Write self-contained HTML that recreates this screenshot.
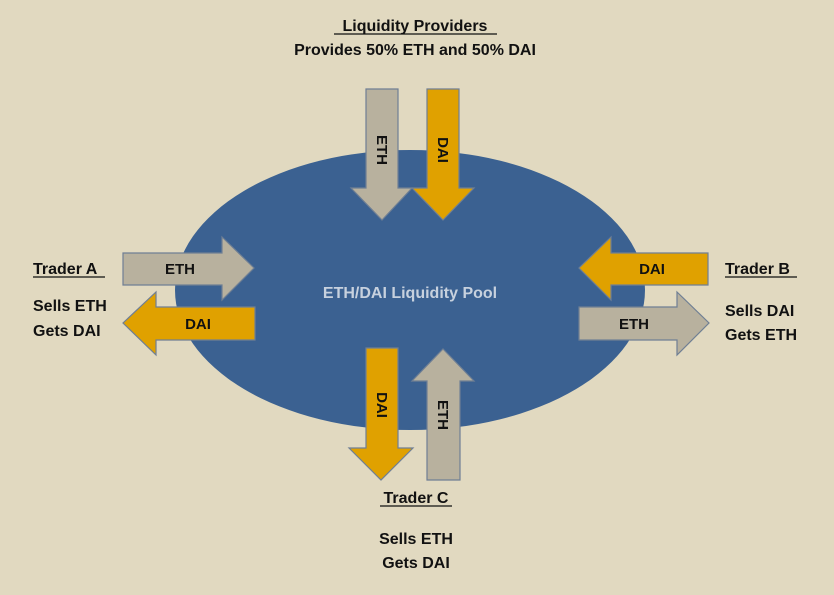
<!DOCTYPE html>
<html><head><style>
html,body{margin:0;padding:0;background:#e1d9c0;}
svg{display:block;}
text{font-family:"Liberation Sans",sans-serif;font-weight:bold;}
</style></head><body>
<svg width="834" height="595" viewBox="0 0 834 595">
<rect width="834" height="595" fill="#e1d9c0"/>
<ellipse cx="410" cy="290" rx="235" ry="140" fill="#3b6191"/>
<g stroke="#6f7f94" stroke-width="1.2">
<polygon points="366,89 398,89 398,188 412,188 382,220 351,188 366,188" fill="#b8b19e"/>
<polygon points="427,89 459,89 459,188 474,188 443,220 412,188 427,188" fill="#e0a100"/>
<polygon points="123,253 222,253 222,237 254,268 222,300 222,285 123,285" fill="#b8b19e"/>
<polygon points="255,307 156,307 156,292 123,323 156,355 156,340 255,340" fill="#e0a100"/>
<polygon points="708,253 611,253 611,237 579,268 611,300 611,285 708,285" fill="#e0a100"/>
<polygon points="579,307 677,307 677,292 709,323 677,355 677,340 579,340" fill="#b8b19e"/>
<polygon points="366,348 398,348 398,448 413,448 381,480 349,448 366,448" fill="#e0a100"/>
<polygon points="427,480 460,480 460,381 474,381 443,349 412,381 427,381" fill="#b8b19e"/>
</g>
<g font-size="15" fill="#111" text-anchor="middle">
<text transform="translate(382,150) rotate(90)" dy="5">ETH</text>
<text transform="translate(443,150) rotate(90)" dy="5">DAI</text>
<text x="180" y="274">ETH</text>
<text x="198" y="329">DAI</text>
<text x="652" y="274">DAI</text>
<text x="634" y="329">ETH</text>
<text transform="translate(382,405) rotate(90)" dy="5">DAI</text>
<text transform="translate(443,415) rotate(90)" dy="5">ETH</text>
</g>
<text x="410" y="298" font-size="16" fill="#c7d1de" text-anchor="middle">ETH/DAI Liquidity Pool</text>
<g font-size="16" fill="#111">
<text x="415" y="31" text-anchor="middle">Liquidity Providers</text>
<line x1="334" y1="34" x2="497" y2="34" stroke="#111" stroke-width="1.3"/>
<text x="415" y="55" text-anchor="middle">Provides 50% ETH and 50% DAI</text>
<text x="33" y="274">Trader A</text>
<line x1="33" y1="277" x2="105" y2="277" stroke="#111" stroke-width="1.3"/>
<text x="33" y="311">Sells ETH</text>
<text x="33" y="336">Gets DAI</text>
<text x="725" y="274">Trader B</text>
<line x1="725" y1="277" x2="797" y2="277" stroke="#111" stroke-width="1.3"/>
<text x="725" y="316">Sells DAI</text>
<text x="725" y="340">Gets ETH</text>
<text x="416" y="503" text-anchor="middle">Trader C</text>
<line x1="380" y1="506" x2="452" y2="506" stroke="#111" stroke-width="1.3"/>
<text x="416" y="544" text-anchor="middle">Sells ETH</text>
<text x="416" y="568" text-anchor="middle">Gets DAI</text>
</g>
</svg>
</body></html>
